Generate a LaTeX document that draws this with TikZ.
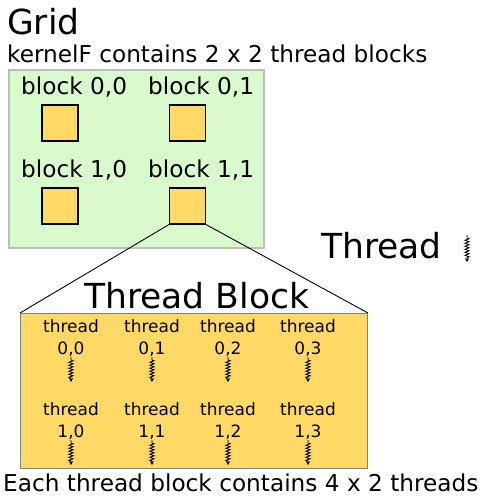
\documentclass[tikz,border=0pt]{standalone}
\usepackage{fontspec}
\setmainfont{DejaVu Sans}
\usetikzlibrary{decorations.pathmorphing,arrows.meta}
\definecolor{gridgreen}{RGB}{216,250,205}
\definecolor{blockyellow}{RGB}{255,217,102}
\definecolor{bordergray}{RGB}{190,190,190}
\tikzset{
  bigtxt/.style={font=\fontsize{34.5}{40}\selectfont, inner sep=0pt},
  midtxt/.style={font=\fontsize{23.2}{27}\selectfont, inner sep=0pt},
  smalltxt/.style={font=\fontsize{17}{20}\selectfont, inner sep=0pt},
  blocksq/.style={draw=black, fill=blockyellow, line width=1.2pt, minimum width=36pt, minimum height=36pt, inner sep=0pt},
  thr/.style={decorate, decoration={zigzag, segment length=3pt, amplitude=2.2pt, pre length=3pt, post length=4pt}, -{Stealth[length=4pt,width=4pt]}, line width=0.8pt},
}
\begin{document}
\begin{tikzpicture}[x=1pt,y=-1pt]
\useasboundingbox (0,0) rectangle (480,496);
% grid
\node[bigtxt, anchor=base west] (gridlbl) at (7,34) {Grid};
\node[midtxt, anchor=base west] (gridsub) at (7,62) {kernelF contains 2 x 2 thread blocks};
\node[draw=bordergray, fill=gridgreen, line width=1.5pt, anchor=north west, minimum width=255pt, minimum height=178pt, inner sep=0pt] (grid) at (8,69) {};
\node[midtxt, anchor=base west] (l00) at (21,94) {block 0,0};
\node[midtxt, anchor=base west] (l01) at (148,94) {block 0,1};
\node[midtxt, anchor=base west] (l10) at (21,177) {block 1,0};
\node[midtxt, anchor=base west] (l11) at (148,177) {block 1,1};
\node[blocksq] (b00) at (60,123) {};
\node[blocksq] (b01) at (187.5,123) {};
\node[blocksq] (b10) at (60,206) {};
\node[blocksq] (b11) at (187.5,206) {};
% legend
\node[bigtxt, anchor=base west] (thrlbl) at (321,258) {Thread};
\coordinate (ts) at (467,235);
\coordinate (te) at (467,262);
\draw[thr] (ts) -- (te);
% thread block
\node[draw=black!50, fill=blockyellow, line width=1pt, anchor=north west, minimum width=347pt, minimum height=155pt, inner sep=0pt] (tb) at (20,313) {};
\draw[line width=0.9pt] (b11.south west) -- (tb.north west);
\draw[line width=0.9pt] (b11.south east) -- (tb.north east);
\node[bigtxt, anchor=base west] (tblbl) at (84,308) {Thread Block};
\foreach \r/\yb in {0/332,1/415}{
  \foreach \c/\xc in {0/71,1/152,2/228,3/308}{
    \node[smalltxt, anchor=base] (t\r\c) at (\xc,\yb) {thread};
    \node[smalltxt, anchor=base] (n\r\c) at (\xc,\yb+22) {\r,\c};
    \coordinate (s\r\c) at (\xc,\yb+25);
    \coordinate (e\r\c) at (\xc,\yb+50);
    \draw[thr] (s\r\c) -- (e\r\c);
  }
}
\node[midtxt, anchor=base west] (foot) at (3,491) {Each thread block contains 4 x 2 threads};
\end{tikzpicture}
\end{document}
